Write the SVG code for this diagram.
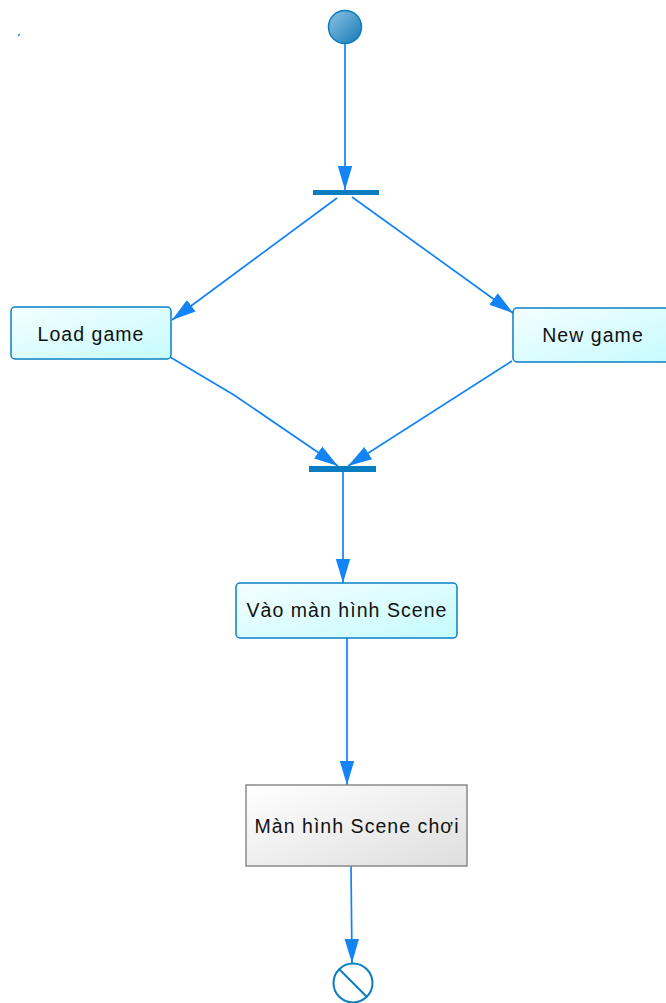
<svg xmlns="http://www.w3.org/2000/svg" width="666" height="1003" viewBox="0 0 666 1003">
  <style>
    .flow { fill: none; stroke: #1284f5; stroke-width: 1.7; }
    .act { stroke: #0a80c4; stroke-width: 1.5; fill: url(#actFill); }
    .screen { stroke: #8a8a8a; stroke-width: 1.5; fill: url(#screenFill); }
    .bar { fill: #0a7cc0; }
    .lbl { font-family: "Liberation Sans", Arial, sans-serif; font-size: 19.5px; letter-spacing: 1.05px; fill: #111; text-anchor: middle; }
  </style>
  <defs>
    <linearGradient id="actFill" x1="0" y1="0" x2="1" y2="1">
      <stop offset="0" stop-color="#f4feff"/>
      <stop offset="1" stop-color="#c6fbfd"/>
    </linearGradient>
    <linearGradient id="screenFill" x1="0" y1="0" x2="1" y2="1">
      <stop offset="0" stop-color="#ffffff"/>
      <stop offset="1" stop-color="#dedede"/>
    </linearGradient>
    <linearGradient id="startFill" x1="0" y1="0" x2="1" y2="1">
      <stop offset="0" stop-color="#8ec4e2"/>
      <stop offset="1" stop-color="#1478b8"/>
    </linearGradient>
    <marker id="arrow" markerUnits="userSpaceOnUse" markerWidth="26" markerHeight="16" refX="24" refY="8" orient="auto">
      <path d="M0,0.8 L24,8 L0,15.2 Z" fill="#1284f5"/>
    </marker>
  </defs>

  <!-- stray mark -->
  <line x1="18" y1="36" x2="20" y2="34" stroke="#1284f5" stroke-width="1.2"/>

  <g id="connectors">
    <line class="flow" x1="345" y1="44" x2="345" y2="190" marker-end="url(#arrow)"/>
    <line class="flow" x1="337" y1="198" x2="172" y2="320" marker-end="url(#arrow)"/>
    <line class="flow" x1="352" y1="197" x2="513" y2="313" marker-end="url(#arrow)"/>
    <polyline class="flow" points="170,357 234,395 338,466" marker-end="url(#arrow)"/>
    <line class="flow" x1="512" y1="361" x2="348" y2="466" marker-end="url(#arrow)"/>
    <line class="flow" x1="343" y1="472" x2="343" y2="583" marker-end="url(#arrow)"/>
    <line class="flow" x1="347" y1="638" x2="347" y2="785" marker-end="url(#arrow)"/>
    <line class="flow" x1="351" y1="866" x2="352" y2="963" marker-end="url(#arrow)"/>
  </g>

  <g id="start">
    <circle cx="345" cy="27" r="16.5" fill="url(#startFill)" stroke="#0a7cc0" stroke-width="1.5"/>
  </g>

  <g id="fork">
    <rect class="bar" x="313" y="190" width="66" height="5"/>
  </g>

  <g id="load-game">
    <rect class="act" x="11" y="307" width="160" height="52" rx="4"/>
    <text class="lbl" x="91" y="341">Load game</text>
  </g>

  <g id="new-game">
    <rect class="act" x="513" y="308" width="160" height="54" rx="4"/>
    <text class="lbl" x="593" y="342">New game</text>
  </g>

  <g id="join">
    <rect class="bar" x="309" y="466" width="67" height="6"/>
  </g>

  <g id="enter-scene">
    <rect class="act" x="236" y="583" width="221" height="55" rx="4"/>
    <text class="lbl" x="347" y="617">Vào màn hình Scene</text>
  </g>

  <g id="play-scene">
    <rect class="screen" x="246" y="785" width="221" height="81"/>
    <text class="lbl" x="357" y="833">Màn hình Scene chơi</text>
  </g>

  <g id="end">
    <circle cx="353" cy="983" r="19.5" fill="#fff" stroke="#0a7cc0" stroke-width="2"/>
    <line x1="339" y1="969" x2="367" y2="997" stroke="#0a7cc0" stroke-width="2"/>
  </g>
</svg>
